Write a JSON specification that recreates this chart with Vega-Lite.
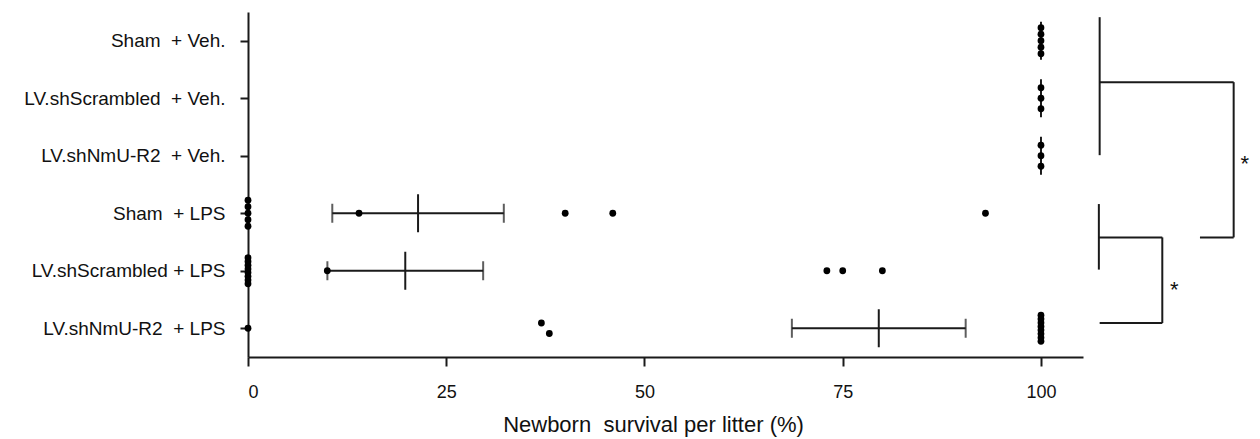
{
  "$schema": "https://vega.github.io/schema/vega-lite/v6.json",
  "autosize": {"type": "none"},
  "width": 835,
  "height": 345,
  "padding": {"left": 248, "top": 12, "right": 177, "bottom": 82},
  "background": "white",
  "config": {
    "view": {"stroke": null},
    "font": "Liberation Sans",
    "axis": {
      "grid": false,
      "domainColor": "#1a1a1a",
      "domainWidth": 2,
      "tickColor": "#1a1a1a",
      "tickWidth": 2,
      "labelColor": "#111",
      "titleColor": "#111",
      "labelFont": "Liberation Sans",
      "titleFont": "Liberation Sans",
      "titleFontWeight": "normal"
    }
  },
  "datasets": {
    "litters": [
      {"group": "Sham\u00a0 + Veh.", "value": 100},
      {"group": "Sham\u00a0 + Veh.", "value": 100},
      {"group": "Sham\u00a0 + Veh.", "value": 100},
      {"group": "Sham\u00a0 + Veh.", "value": 100},
      {"group": "Sham\u00a0 + Veh.", "value": 100},
      {"group": "LV.shScrambled\u00a0 + Veh.", "value": 100},
      {"group": "LV.shScrambled\u00a0 + Veh.", "value": 100},
      {"group": "LV.shScrambled\u00a0 + Veh.", "value": 100},
      {"group": "LV.shNmU-R2\u00a0 + Veh.", "value": 100},
      {"group": "LV.shNmU-R2\u00a0 + Veh.", "value": 100},
      {"group": "LV.shNmU-R2\u00a0 + Veh.", "value": 100},
      {"group": "Sham\u00a0 + LPS", "value": 0},
      {"group": "Sham\u00a0 + LPS", "value": 0},
      {"group": "Sham\u00a0 + LPS", "value": 0},
      {"group": "Sham\u00a0 + LPS", "value": 0},
      {"group": "Sham\u00a0 + LPS", "value": 0},
      {"group": "Sham\u00a0 + LPS", "value": 14},
      {"group": "Sham\u00a0 + LPS", "value": 40},
      {"group": "Sham\u00a0 + LPS", "value": 46},
      {"group": "Sham\u00a0 + LPS", "value": 93},
      {"group": "LV.shScrambled + LPS", "value": 0},
      {"group": "LV.shScrambled + LPS", "value": 0},
      {"group": "LV.shScrambled + LPS", "value": 0},
      {"group": "LV.shScrambled + LPS", "value": 0},
      {"group": "LV.shScrambled + LPS", "value": 0},
      {"group": "LV.shScrambled + LPS", "value": 0},
      {"group": "LV.shScrambled + LPS", "value": 0},
      {"group": "LV.shScrambled + LPS", "value": 0},
      {"group": "LV.shScrambled + LPS", "value": 10},
      {"group": "LV.shScrambled + LPS", "value": 73},
      {"group": "LV.shScrambled + LPS", "value": 75},
      {"group": "LV.shScrambled + LPS", "value": 80},
      {"group": "LV.shNmU-R2\u00a0 + LPS", "value": 0},
      {"group": "LV.shNmU-R2\u00a0 + LPS", "value": 37},
      {"group": "LV.shNmU-R2\u00a0 + LPS", "value": 38},
      {"group": "LV.shNmU-R2\u00a0 + LPS", "value": 100},
      {"group": "LV.shNmU-R2\u00a0 + LPS", "value": 100},
      {"group": "LV.shNmU-R2\u00a0 + LPS", "value": 100},
      {"group": "LV.shNmU-R2\u00a0 + LPS", "value": 100},
      {"group": "LV.shNmU-R2\u00a0 + LPS", "value": 100},
      {"group": "LV.shNmU-R2\u00a0 + LPS", "value": 100},
      {"group": "LV.shNmU-R2\u00a0 + LPS", "value": 100},
      {"group": "LV.shNmU-R2\u00a0 + LPS", "value": 100}
    ],
    "brackets": [
      {"x": 107.4, "x2": 107.4, "y": -0.41, "y2": 1.99},
      {"x": 107.4, "x2": 124.3, "y": 0.72, "y2": 0.72},
      {"x": 124.3, "x2": 124.3, "y": 0.72, "y2": 3.42},
      {"x": 120.05, "x2": 124.3, "y": 3.42, "y2": 3.42},
      {"x": 107.3, "x2": 107.3, "y": 2.84, "y2": 3.98},
      {"x": 107.3, "x2": 115.3, "y": 3.42, "y2": 3.42},
      {"x": 115.3, "x2": 115.3, "y": 3.42, "y2": 4.91},
      {"x": 107.4, "x2": 115.3, "y": 4.91, "y2": 4.91}
    ],
    "stars": [
      {"x": 125.7, "y": 2.06, "label": "*"},
      {"x": 116.8, "y": 4.24, "label": "*"}
    ]
  },
  "layer": [
    {
      "data": {"name": "litters"},
      "encoding": {
        "y": {
          "field": "group",
          "type": "nominal",
          "sort": ["Sham\u00a0 + Veh.", "LV.shScrambled\u00a0 + Veh.", "LV.shNmU-R2\u00a0 + Veh.", "Sham\u00a0 + LPS", "LV.shScrambled + LPS", "LV.shNmU-R2\u00a0 + LPS"],
          "scale": {"type": "point", "padding": 0.5},
          "axis": {
            "title": null,
            "tickSize": 8,
            "labelPadding": 15,
            "labelFontSize": 19,
            "labelLimit": 300
          }
        }
      },
      "layer": [
        {
          "mark": {"type": "errorbar", "extent": "stderr", "color": "#1a1a1a", "ticks": {"size": 19, "thickness": 2}, "rule": {"strokeWidth": 2}},
          "encoding": {
            "x": {
              "field": "value",
              "type": "quantitative",
              "scale": {"domain": [0, 105.3], "nice": false},
              "axis": {
                "values": [0, 25, 50, 75, 100],
                "tickSize": 9,
                "labelPadding": 31,
                "labelBaseline": "alphabetic",
                "labelFontSize": 18,
                "title": "Newborn\u00a0 survival per litter (%)",
                "titleFontSize": 22,
                "titleBaseline": "alphabetic",
                "titleY": 74,
                "titleX": 405
              }
            }
          }
        },
        {
          "mark": {"type": "tick", "color": "#1a1a1a", "size": 38, "thickness": 2},
          "encoding": {
            "x": {"aggregate": "mean", "field": "value", "type": "quantitative"}
          }
        },
        {
          "transform": [
            {"calculate": "round(datum.value / 2)", "as": "bin"},
            {
              "window": [{"op": "row_number", "as": "r"}, {"op": "count", "as": "n"}],
              "groupby": ["group", "bin"],
              "sort": [{"field": "value"}],
              "frame": [null, null]
            },
            {"calculate": "(datum.r - (datum.n + 1) / 2) * min(10.5, 26 / max(1, datum.n - 1))", "as": "off"}
          ],
          "mark": {"type": "circle", "color": "#000", "size": 46, "opacity": 1},
          "encoding": {
            "x": {"field": "value", "type": "quantitative"},
            "yOffset": {"field": "off", "type": "quantitative", "scale": null}
          }
        }
      ]
    },
    {
      "encoding": {
        "x": {"type": "quantitative", "scale": {"domain": [0, 105.3], "nice": false}},
        "y": {"type": "quantitative", "scale": {"domain": [-0.5, 5.5], "reverse": true, "nice": false, "zero": false}, "axis": null}
      },
      "layer": [
        {
          "data": {"name": "brackets"},
          "mark": {"type": "rule", "color": "#1a1a1a", "strokeWidth": 2},
          "encoding": {
            "x": {"field": "x", "type": "quantitative"},
            "x2": {"field": "x2"},
            "y": {"field": "y", "type": "quantitative"},
            "y2": {"field": "y2"}
          }
        },
        {
          "data": {"name": "stars"},
          "mark": {"type": "text", "fontSize": 22, "align": "center", "baseline": "middle", "dy": 5, "color": "#111"},
          "encoding": {
            "x": {"field": "x", "type": "quantitative"},
            "y": {"field": "y", "type": "quantitative"},
            "text": {"field": "label"}
          }
        }
      ]
    }
  ],
  "resolve": {"scale": {"y": "independent"}}
}
